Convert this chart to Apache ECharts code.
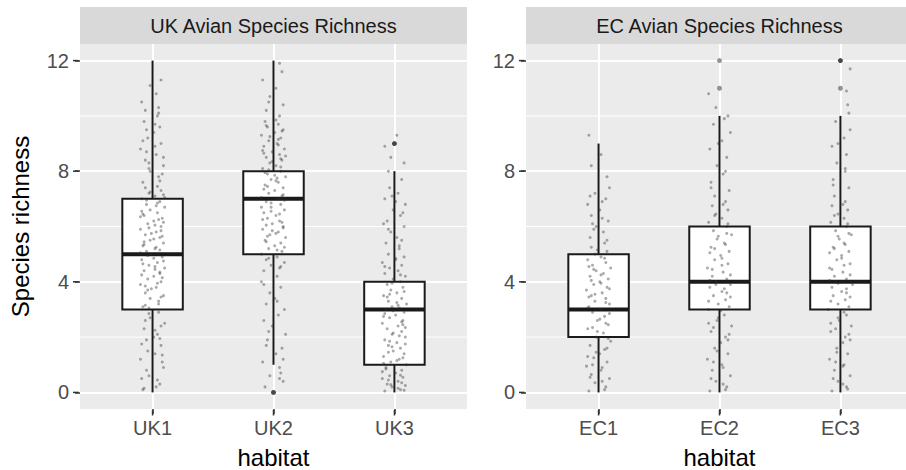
<!DOCTYPE html>
<html>
<head>
<meta charset="utf-8">
<script src="https://cdn.jsdelivr.net/npm/echarts@6/dist/echarts.min.js"></script>
<style>html,body{margin:0;padding:0;background:#fff}#c{width:906px;height:470px}</style>
</head>
<body>
<div id="c"></div>
<script>
const catsUK = ['UK1','UK2','UK3'];
const catsEC = ['EC1','EC2','EC3'];
const panelTitles = ['UK Avian Species Richness','EC Avian Species Richness'];
const yTicks = [0,4,8,12];
const yMinor = [2,6,10];
const xTicks = [1,2,3];
// [category position, lower whisker, Q1, median, Q3, upper whisker]
const boxUK = [[1,0,3,5,7,12],[2,1,5,7,8,12],[3,0,1,3,4,8]];
const boxEC = [[1,0,2,3,5,9],[2,0,3,4,6,10],[3,0,3,4,6,10]];
const outUKdark = [[2,0],[3,9]];
const outECdark = [[3,12]];
const outECgrey = [[2,11],[2,12],[3,11]];
// jittered observations: [x offset from category, value]
const jitUK1 = [[-.08,0.1],[.06,0.3],[-.03,0.6],[.09,0.9],[-.1,1.2],[.02,1.4],[.07,1.7],[-.05,1.9],[.04,2.1],[-.07,2.3],[.1,2.5],[-.02,2.7],[.05,2.9],[-.09,0.5],[.08,1.1],[-.04,1.5],[.01,2.0],[-.06,2.6],[.03,0.2],[.07,2.4],
[-.08,3.1],[.05,3.2],[-.02,3.4],[.09,3.5],[-.06,3.6],[.03,3.8],[-.1,3.9],[.07,4.0],[-.04,4.1],[.01,4.2],[.06,4.3],[-.07,4.4],[.1,4.5],[-.03,4.6],[.04,4.7],[-.09,4.8],[.08,4.9],[-.01,5.0],[.05,5.0],[-.05,5.1],[.02,5.2],[-.08,5.3],[.09,5.4],[-.02,5.5],[.06,5.6],[-.06,5.7],[.03,5.8],[-.1,5.9],[.07,6.0],[-.04,6.1],[.01,6.2],[.08,6.3],[-.07,6.4],[.04,6.5],[-.02,6.6],[.1,6.7],[-.05,6.8],[.06,6.9],[-.09,7.0],[.02,7.1],[-.03,7.2],[.07,7.3],[-.06,7.4],
[.05,3.3],[-.04,3.7],[.08,4.15],[-.08,4.65],[.03,5.25],[-.01,5.75],[.09,6.15],[-.09,6.55],[.04,6.85],[-.03,3.05],[.06,4.35],[-.07,5.45],[.02,6.05],[.09,7.15],[-.1,5.05],[.01,4.85],
[-.08,7.6],[.05,7.8],[-.02,8.0],[.09,8.2],[-.06,8.4],[.03,8.6],[-.1,8.8],[.07,9.0],[-.04,9.2],[.01,9.4],[.06,9.6],[-.07,9.8],[.04,10.0],[-.03,8.3],[.08,7.9],[-.05,9.5],[.02,8.9],
[-.06,10.2],[.05,10.3],[-.09,10.5],[.03,10.8],[-.02,11.1],[.07,11.3],
[.04,0.45],[-.05,0.8],[.08,1.35],[-.09,1.75],[.02,2.25],[-.03,2.85],[.06,1.95],[-.07,0.15],
[-.06,3.15],[.07,3.45],[-.01,3.75],[.04,3.95],[-.09,4.25],[.02,4.55],[.09,4.75],[-.04,4.95],[.06,5.15],[-.07,5.35],[.01,5.55],[.08,5.65],[-.03,5.95],[.05,6.25],[-.08,6.45],[.03,6.75],[-.05,6.95],[.1,7.05],[-.02,7.25],[.04,7.45],[-.06,3.85],[.07,5.85],[-.1,6.35],[.02,4.45],
[.06,7.65],[-.03,8.1],[.09,8.5],[-.08,9.1],[.02,9.7],[-.05,8.7],[.05,10.1]];
const jitUK2 = [[-.07,0.2],[.08,0.4],[-.03,0.6],[.05,0.9],[-.09,1.1],[.02,1.4],[.07,1.6],[-.05,1.9],[.1,2.1],[-.01,2.4],[-.08,2.6],[.04,2.8],[.09,3.0],[-.06,3.2],[.01,3.4],[-.03,3.6],[.06,3.8],[-.1,4.0],[.03,4.2],[.08,1.2],[-.04,2.2],[.06,0.7],
[-.08,4.4],[.05,4.5],[-.02,4.6],[.09,4.7],[-.06,4.8],[.03,4.9],[-.1,5.0],[.07,5.1],[-.04,5.2],[.01,5.3],[.06,5.4],[-.07,5.5],[.1,5.6],[-.03,5.7],[.04,5.8],[-.09,5.9],[.08,6.0],[-.01,6.1],[.05,6.2],[-.05,6.3],[.02,6.4],[-.08,6.5],[.09,6.6],[-.02,6.7],[.06,6.8],[-.06,6.9],[.03,7.0],[-.1,7.05],[.07,7.1],[-.04,7.2],[.01,7.3],[.08,7.4],[-.07,7.5],[.04,7.6],[-.02,7.7],[.1,7.8],[-.05,7.9],[.06,8.0],[-.09,8.1],[.02,8.2],[-.03,8.3],[.07,8.4],[-.06,8.5],[.05,8.6],[-.01,8.7],[.09,8.8],[-.08,8.9],[.03,9.0],[-.04,9.1],[.06,9.2],[-.1,9.3],[.01,9.4],[.08,9.5],[-.05,9.6],[.04,9.7],[-.07,9.8],
[.03,5.15],[-.05,5.65],[.07,6.15],[-.02,6.55],[.09,6.95],[-.08,7.35],[.02,7.65],[-.04,8.05],[.06,8.45],[-.09,8.75],[.04,9.15],[-.01,5.85],[.05,7.0],[-.06,6.05],
[.05,10.0],[-.06,10.2],[.08,10.4],[-.03,10.7],[.02,11.0],[-.09,11.3],[.07,11.6],[.05,11.9],[-.04,10.5],
[.05,0.5],[-.06,1.7],[.03,3.3],[-.08,3.9],
[.06,4.55],[-.04,4.85],[.09,5.25],[-.06,5.45],[.02,5.75],[-.09,6.25],[.05,6.45],[-.02,6.85],[.08,7.15],[-.05,7.45],[.03,7.75],[-.07,7.95],[.06,8.15],[-.01,8.35],[.1,8.55],[-.08,8.65],[.04,8.95],[-.03,9.25],[.07,9.45],[-.06,9.65],[.02,9.85],[-.1,6.7],[.01,7.85],[.08,5.95]];
const jitUK3 = [[-.08,0.05],[.05,0.1],[-.02,0.2],[.09,0.25],[-.06,0.3],[.03,0.4],[-.1,0.5],[.07,0.55],[-.04,0.6],[.01,0.7],[.06,0.8],[-.07,0.9],[.1,1.0],[-.03,1.1],[.04,1.2],[-.09,1.3],[.08,1.4],[-.01,1.5],[.05,1.6],[-.05,1.7],[.02,1.8],[-.08,1.9],[.09,2.0],[-.02,2.1],[.06,2.2],[-.06,2.3],[.03,2.4],[-.1,2.5],[.07,2.6],[-.04,2.7],[.01,2.8],[.08,2.9],[-.07,3.0],[.04,3.05],[-.02,3.1],[.1,3.2],[-.05,3.3],[.06,3.4],[-.09,3.5],[.02,3.6],[-.03,3.7],[.07,3.8],[-.06,3.9],[.05,4.0],[-.01,4.1],[.09,4.2],[-.08,4.3],[.03,4.4],[-.04,4.5],[.06,4.6],[-.1,4.7],[.01,4.8],[.08,4.9],[-.05,5.0],
[.03,0.15],[-.05,0.45],[.07,1.25],[-.02,1.65],[.09,2.35],[-.08,2.85],[.02,3.25],[-.04,3.55],[.06,0.35],[-.09,1.05],[.04,2.05],[-.01,2.95],
[.04,5.2],[-.07,5.4],[.02,5.6],[-.03,5.8],[.08,6.0],[-.06,6.2],[.05,6.4],[-.01,6.6],[.09,6.8],[-.08,7.0],[.03,7.2],[-.04,7.4],[.06,5.5],[-.09,6.1],[.01,6.9],
[.06,7.7],[-.05,8.0],[.08,8.3],[-.03,8.5],[-.08,8.9],[.02,9.3],
[.08,0.08],[-.03,0.28],[.05,0.62],[-.07,0.85],[.02,1.15],[-.05,1.45],[.09,1.75],[-.01,2.15],[.06,2.55],[-.09,2.75],[.03,3.15],[-.06,3.45],[.08,3.65],[-.02,3.95],[.05,4.25],[-.08,4.55],[.01,4.85],[-.04,1.85],[.07,2.45],[-.1,0.75],[.04,5.3],[-.05,5.9],[.07,6.5],[-.02,7.1]];
const jitEC1 = [[-.08,0.05],[.06,0.2],[-.03,0.35],[.09,0.5],[-.06,0.65],[.02,0.8],[-.1,0.95],[.07,1.1],[-.04,1.25],[.01,1.4],[.05,1.55],[-.07,1.7],[.1,1.85],[-.02,2.0],[.04,2.15],[-.09,2.3],[.08,2.45],[-.01,2.6],[.05,2.75],[-.05,2.9],[.02,3.0],[-.08,3.1],[.09,3.2],[-.03,3.3],[.06,3.4],[-.06,3.5],[.03,3.6],[-.1,3.7],[.07,3.8],[-.04,3.9],[.01,4.0],[.08,4.1],[-.07,4.2],[.04,4.3],[-.02,4.4],[.1,4.5],[-.05,4.6],[.06,4.7],[-.09,4.8],[.02,4.9],[-.03,5.0],[.07,5.1],[-.06,5.25],[.05,5.4],
[.03,0.4],[-.05,1.0],[.07,1.6],[-.01,2.2],[.09,2.85],[-.08,3.45],[.02,3.95],[-.04,4.45],[.06,2.5],[-.09,1.3],
[-.07,5.6],[.04,5.8],[-.02,6.0],[.08,6.2],[-.06,6.4],[.01,6.6],[-.09,6.8],[.06,7.0],[-.03,7.2],[.09,7.4],[-.05,6.1],[.03,6.9],
[.07,7.8],[-.06,8.2],[.02,8.6],[-.08,9.3],
[.05,0.1],[-.07,0.55],[.03,0.9],[-.02,1.45],[.08,1.95],[-.05,2.35],[.01,2.65],[-.09,3.05],[.06,3.25],[-.03,3.55],[.09,3.75],[-.06,4.05],[.02,4.25],[-.08,4.55],[.05,4.85],[-.01,5.15],[.07,5.5],[-.04,5.9],[.03,6.3],[-.07,7.1]];
const jitEC2 = [[-.08,0.05],[.06,0.2],[-.03,0.4],[.09,0.6],[-.06,0.8],[.02,1.0],[-.1,1.2],[.07,1.4],[-.04,1.6],[.01,1.8],[.05,2.0],[-.07,2.2],[.1,2.4],[-.02,2.6],[.04,2.8],[-.09,3.0],[.08,3.1],[-.01,3.2],[.05,3.35],[-.05,3.5],[.02,3.65],[-.08,3.8],[.09,3.9],[-.03,4.0],[.06,4.1],[-.06,4.2],[.03,4.35],[-.1,4.5],[.07,4.65],[-.04,4.8],[.01,4.95],[.08,5.1],[-.07,5.25],[.04,5.4],[-.02,5.55],[.1,5.7],[-.05,5.85],[.06,6.0],[-.09,6.15],[.02,6.3],[-.03,6.45],[.07,6.6],[-.06,6.75],[.05,6.9],
[.03,0.3],[-.05,1.1],[.07,1.9],[-.01,2.7],[.09,3.45],[-.08,4.05],[.02,4.6],[-.04,5.2],[.06,5.75],[-.09,2.5],[.04,3.75],
[-.04,7.1],[.08,7.3],[-.07,7.6],[.03,7.9],[-.02,8.2],[.06,8.5],[-.08,8.8],[.02,9.1],[.09,9.4],[-.05,9.7],[.07,10.0],[-.03,10.3],[-.09,10.8],
[.05,0.1],[-.07,0.5],[.03,0.9],[-.02,1.5],[.08,2.1],[-.05,2.35],[.01,2.95],[-.09,3.3],[.06,3.6],[-.03,3.9],[.09,4.25],[-.06,4.45],[.02,4.85],[-.08,5.05],[.05,5.35],[-.01,5.65],[.07,6.1],[-.04,6.4],[.03,6.8],[-.07,7.4],[.05,8.0],[-.01,9.0],[.04,9.9]];
const jitEC3 = [[-.07,0.05],[.05,0.2],[-.02,0.4],[.08,0.6],[-.05,0.8],[.03,1.0],[-.09,1.2],[.06,1.4],[-.03,1.6],[.02,1.8],[.04,2.0],[-.08,2.2],[.09,2.4],[-.01,2.6],[.05,2.8],[-.1,3.0],[.07,3.1],[-.02,3.2],[.04,3.35],[-.06,3.5],[.01,3.65],[-.07,3.8],[.1,3.9],[-.04,4.0],[.05,4.1],[-.05,4.2],[.02,4.35],[-.09,4.5],[.08,4.65],[-.03,4.8],[.01,4.95],[.07,5.1],[-.06,5.25],[.03,5.4],[-.01,5.55],[.09,5.7],[-.04,5.85],[.05,6.0],[-.08,6.15],[.03,6.3],[-.02,6.45],[.06,6.6],[-.07,6.75],[.04,6.9],
[.02,0.3],[-.04,1.1],[.08,1.9],[-.02,2.7],[.08,3.45],[-.09,4.05],[.03,4.6],[-.05,5.2],[.07,5.75],[-.08,2.5],[.05,3.75],
[-.05,7.1],[.07,7.4],[-.06,7.7],[.04,8.0],[-.03,8.3],[.05,8.6],[-.07,8.9],[.03,9.2],[.08,9.5],[-.04,9.8],[.06,10.4],[.05,10.9],[.08,11.7],
[.06,0.12],[-.06,0.5],[.02,0.95],[-.03,1.45],[.07,2.1],[-.04,2.3],[.03,2.9],[-.08,3.3],[.05,3.6],[-.02,3.95],[.08,4.25],[-.07,4.45],[.01,4.85],[-.09,5.05],[.04,5.35],[-.02,5.65],[.06,6.1],[-.05,6.4],[.02,6.8],[-.06,7.5],[.04,8.1],[-.02,9.0],[.07,10.1]];

const FONT = '"Liberation Sans", Arial, Helvetica, sans-serif';
const X_MIN = 0.4, X_MAX = 3.6, Y_MIN = -0.6, Y_MAX = 12.6;
const place = (arr, pos) => arr.map(p => [pos + p[0], p[1]]);
const jitterUK = [].concat(place(jitUK1,1), place(jitUK2,2), place(jitUK3,3));
const jitterEC = [].concat(place(jitEC1,1), place(jitEC2,2), place(jitEC3,3));

function renderBox(params, api) {
  const x = api.value(0);
  const lo = api.coord([x, api.value(1)]);
  const q1 = api.coord([x, api.value(2)]);
  const md = api.coord([x, api.value(3)]);
  const q3 = api.coord([x, api.value(4)]);
  const hi = api.coord([x, api.value(5)]);
  const w = api.size([0.5, 0])[0];
  const stroke = '#1a1a1a';
  return {type:'group', children:[
    {type:'line', shape:{x1:lo[0],y1:lo[1],x2:q1[0],y2:q1[1]}, style:{stroke:stroke, lineWidth:2}},
    {type:'line', shape:{x1:q3[0],y1:q3[1],x2:hi[0],y2:hi[1]}, style:{stroke:stroke, lineWidth:2}},
    {type:'rect', shape:{x:q3[0]-w/2, y:q3[1], width:w, height:q1[1]-q3[1]}, style:{fill:'#ffffff', stroke:stroke, lineWidth:2}},
    {type:'line', shape:{x1:md[0]-w/2,y1:md[1],x2:md[0]+w/2,y2:md[1]}, style:{stroke:stroke, lineWidth:4}}
  ]};
}
// thin minor grid line across the panel at a y value
function renderMinor(params, api) {
  const v = api.value(0);
  const a = api.coord([X_MIN, v]), b = api.coord([X_MAX, v]);
  return {type:'line', shape:{x1:a[0], y1:a[1], x2:b[0], y2:b[1]}, style:{stroke:'#ffffff', lineWidth:1}};
}

const hiddenLine = {show:true, onZero:false, lineStyle:{color:'rgba(235,235,235,0)', width:1}};
function xAxisFor(gi, cats) {
  return {type:'value', gridIndex:gi, min:X_MIN, max:X_MAX, position:'bottom',
    axisLine:hiddenLine,
    axisTick:{show:true, customValues:xTicks, length:5, lineStyle:{color:'#333333', width:1.5}},
    axisLabel:{show:true, customValues:xTicks, formatter:v => cats[Math.round(v)-1], color:'#4D4D4D', fontSize:20, fontFamily:FONT, margin:9},
    splitLine:{show:true, lineStyle:{color:'#ffffff', width:2}},
    name:'habitat', nameLocation:'middle', nameGap:36,
    nameTextStyle:{fontSize:24, color:'#000000', fontFamily:FONT}};
}
function yAxisFor(gi, withName) {
  const a = {type:'value', gridIndex:gi, min:Y_MIN, max:Y_MAX, position:'left',
    axisLine:hiddenLine,
    axisTick:{show:true, customValues:yTicks, length:5, lineStyle:{color:'#333333', width:1.5}},
    axisLabel:{show:true, customValues:yTicks, color:'#4D4D4D', fontSize:20, fontFamily:FONT, margin:11},
    splitLine:{show:true, lineStyle:{color:'#ffffff', width:2}}};
  if (withName) {
    a.name = 'Species richness'; a.nameLocation = 'middle'; a.nameGap = 48;
    a.nameTextStyle = {fontSize:24, color:'#000000', fontFamily:FONT};
  }
  return a;
}

const stripGraphics = [
  {type:'rect', shape:{x:80, y:7, width:387, height:37}, style:{fill:'#D9D9D9'}, silent:true},
  {type:'rect', shape:{x:526, y:7, width:387, height:37}, style:{fill:'#D9D9D9'}, silent:true},
  {type:'text', x:273.5, y:26, silent:true, style:{text:panelTitles[0], fontSize:20, fontFamily:FONT, fill:'#1A1A1A', align:'center', verticalAlign:'middle', textAlign:'center', textVerticalAlign:'middle'}},
  {type:'text', x:719.5, y:26, silent:true, style:{text:panelTitles[1], fontSize:20, fontFamily:FONT, fill:'#1A1A1A', align:'center', verticalAlign:'middle', textAlign:'center', textVerticalAlign:'middle'}}
];

const jitterStyle = {color:'rgba(45,45,45,0.5)'};
const chart = echarts.init(document.getElementById('c'), null, {renderer:'svg', width:906, height:470});
chart.setOption({
  animation:false,
  backgroundColor:'#ffffff',
  textStyle:{fontFamily:FONT},
  grid:[
    {left:80, top:44, width:387, height:365, show:true, backgroundColor:'#EBEBEB', borderWidth:0, outerBoundsMode:'none'},
    {left:526, top:44, width:387, height:365, show:true, backgroundColor:'#EBEBEB', borderWidth:0, outerBoundsMode:'none'}
  ],
  xAxis:[xAxisFor(0, catsUK), xAxisFor(1, catsEC)],
  yAxis:[yAxisFor(0, true), yAxisFor(1, false)],
  graphic:stripGraphics,
  series:[
    {type:'custom', xAxisIndex:0, yAxisIndex:0, renderItem:renderMinor, data:yMinor.map(v => [v]), encode:{y:0}, z:1, silent:true},
    {type:'custom', xAxisIndex:1, yAxisIndex:1, renderItem:renderMinor, data:yMinor.map(v => [v]), encode:{y:0}, z:1, silent:true},
    {type:'custom', xAxisIndex:0, yAxisIndex:0, renderItem:renderBox, data:boxUK, encode:{x:0, y:[1,2,3,4,5]}, z:2, silent:true},
    {type:'custom', xAxisIndex:1, yAxisIndex:1, renderItem:renderBox, data:boxEC, encode:{x:0, y:[1,2,3,4,5]}, z:2, silent:true},
    {type:'scatter', xAxisIndex:0, yAxisIndex:0, data:outUKdark, symbolSize:5, itemStyle:{color:'#1a1a1a'}, z:3, silent:true, clip:false},
    {type:'scatter', xAxisIndex:1, yAxisIndex:1, data:outECdark, symbolSize:5, itemStyle:{color:'#1a1a1a'}, z:3, silent:true, clip:false},
    {type:'scatter', xAxisIndex:1, yAxisIndex:1, data:outECgrey, symbolSize:5, itemStyle:{color:'#7a7a7a'}, z:3, silent:true, clip:false},
    {type:'scatter', xAxisIndex:0, yAxisIndex:0, data:jitterUK, symbolSize:3, itemStyle:jitterStyle, z:4, silent:true, clip:false},
    {type:'scatter', xAxisIndex:1, yAxisIndex:1, data:jitterEC, symbolSize:3, itemStyle:jitterStyle, z:4, silent:true, clip:false}
  ]
});

// axis ticks as dashes just outside each panel; positions come from the chart's own axes
const tickGraphics = [];
[0, 1].forEach(gi => {
  const finder = {xAxisIndex:gi, yAxisIndex:gi};
  yTicks.forEach(v => {
    const p = chart.convertToPixel(finder, [X_MIN, v]);
    if (p && isFinite(p[0]) && isFinite(p[1])) {
      tickGraphics.push({type:'rect', silent:true, z:100, shape:{x:p[0]-7, y:p[1]-0.75, width:5.5, height:1.5}, style:{fill:'#333333'}});
    }
  });
  xTicks.forEach(v => {
    const p = chart.convertToPixel(finder, [v, Y_MIN]);
    if (p && isFinite(p[0]) && isFinite(p[1])) {
      tickGraphics.push({type:'rect', silent:true, z:100, shape:{x:p[0]-0.75, y:p[1]+1, width:1.5, height:5.5}, style:{fill:'#333333'}});
    }
  });
});
chart.setOption({graphic:{elements: stripGraphics.concat(tickGraphics)}});
</script>
</body>
</html>
